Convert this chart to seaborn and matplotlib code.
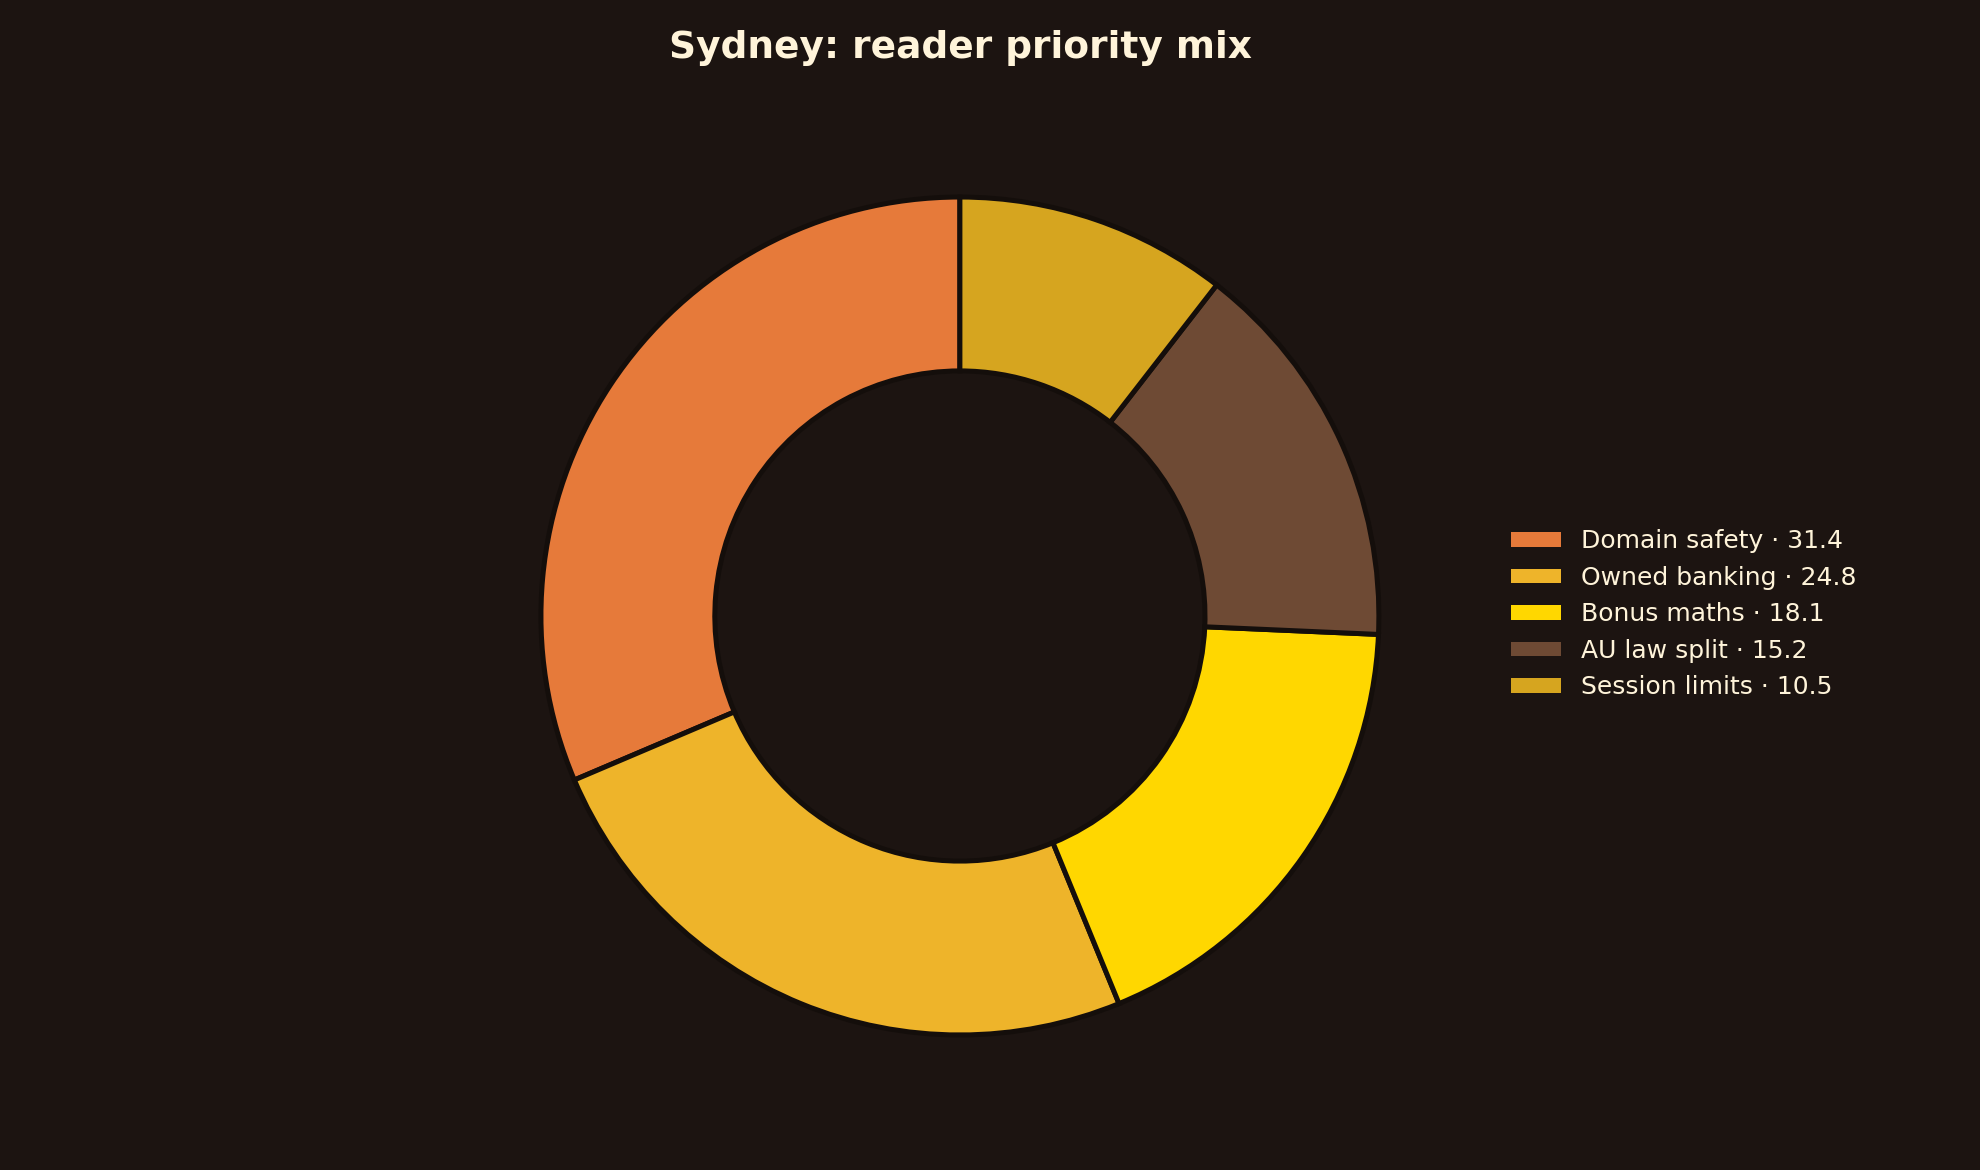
import matplotlib
matplotlib.use("Agg")
import matplotlib.pyplot as plt
from matplotlib.patches import Patch
import seaborn as sns

# data
categories = ["Domain safety", "Owned banking", "Bonus maths", "AU law split", "Session limits"]
shares = [31.4, 24.8, 18.1, 15.2, 10.5]
colors = ["#E67A3A", "#EEB42A", "#FFD700", "#6E4A34", "#D6A51F"]

bg = "#1C1411"
text_col = "#FFF4DA"

sns.set_theme(style="dark", rc={
    "figure.facecolor": bg,
    "axes.facecolor": bg,
    "text.color": text_col,
})
plt.rcParams["font.family"] = ["DejaVu Sans"]

fig = plt.figure(figsize=(11, 6.5), dpi=180)
ax = fig.add_axes([0.2732, 0.1154, 0.4232, 0.7162])

labels = [f"{c} · {v}" for c, v in zip(categories, shares)]
wedges, _ = ax.pie(
    shares, colors=colors, startangle=90, counterclock=True,
    wedgeprops=dict(width=0.415, edgecolor="#140E0B", linewidth=2),
)
ax.set_xlim(-1.0, 1.0)
ax.set_ylim(-1.0, 1.0)
ax.set_aspect("equal")
ax.axis("off")

fig.suptitle("Sydney: reader priority mix", x=0.485, y=0.959, va="center",
             fontsize=15, fontweight="bold", color=text_col)

handles = [Patch(facecolor=c, edgecolor="none") for c in colors]
leg = fig.legend(handles, labels, loc="center left", bbox_to_anchor=(0.752, 0.475),
                 frameon=False, fontsize=10, handlelength=2.0, handleheight=0.5)
for t in leg.get_texts():
    t.set_color(text_col)

fig.savefig("out.png", dpi=180, facecolor=bg)
